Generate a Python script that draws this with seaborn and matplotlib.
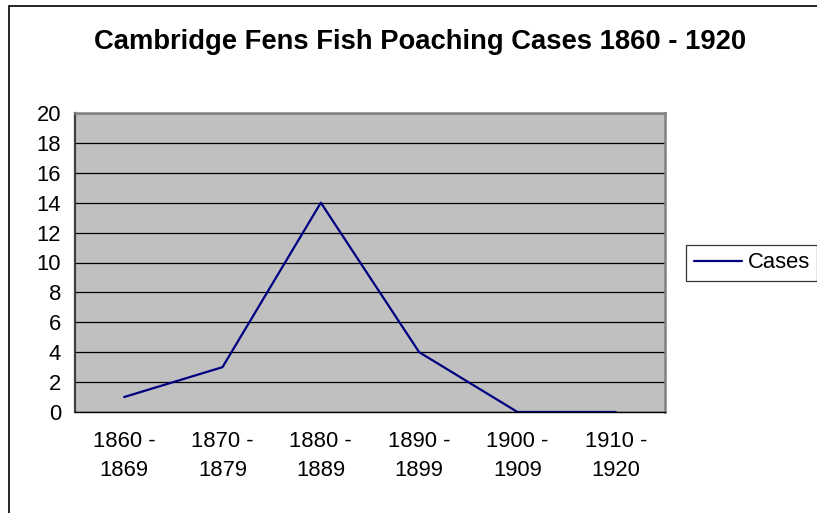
import matplotlib
matplotlib.use("Agg")
import matplotlib.pyplot as plt
import seaborn as sns
import pandas as pd
import numpy as np
from matplotlib.patches import Rectangle

periods = ["1860 -\n1869", "1870 -\n1879", "1880 -\n1889", "1890 -\n1899", "1900 -\n1909", "1910 -\n1920"]
cases = [1, 3, 14, 4, 0, 0]
series_name = "Cases"
title = "Cambridge Fens Fish Poaching Cases 1860 - 1920"
y_ticks = [0, 2, 4, 6, 8, 10, 12, 14, 16, 18, 20]

sns.set_style("white")
plt.rcParams['font.family'] = ['Liberation Sans', 'DejaVu Sans']
plt.rcParams['text.color'] = 'black'
plt.rcParams['xtick.color'] = 'black'
plt.rcParams['ytick.color'] = 'black'
plt.rcParams['axes.labelcolor'] = 'black'

W, H = 817, 513
fig = plt.figure(figsize=(W / 100, H / 100), dpi=100)
ax = fig.add_axes([75 / W, 1 - 412 / H, (665 - 75) / W, (412 - 113) / H])

df = pd.DataFrame({"period": periods, "cases": cases, "series": series_name})
df["pos"] = np.arange(len(periods))
sns.lineplot(data=df, x="pos", y="cases", hue="series", palette=["#000080"],
             linewidth=1.6, ax=ax, sort=False, legend=True)

ax.set_facecolor("#C0C0C0")
ax.set_xlim(-0.5, len(periods) - 0.5)
ax.set_ylim(0, 20)
ax.set_yticks(y_ticks)
ax.set_yticklabels([str(v) for v in y_ticks], fontsize=15.8)
ax.yaxis.grid(True, color="black", linewidth=0.9)
ax.set_axisbelow(True)

ax.set_xticks(np.arange(-0.5, len(periods), 1.0))
ax.set_xticklabels([])
ax.set_xticks(np.arange(len(periods)), minor=True)
ax.set_xticklabels(periods, minor=True, fontsize=15.8, linespacing=1.45)
ax.tick_params(axis="x", which="major", direction="out", length=6, width=1, color="black")
ax.tick_params(axis="x", which="minor", length=0, pad=14)
ax.tick_params(axis="y", direction="out", length=6, width=1, color="black", pad=4)
ax.set_xlabel("")
ax.set_ylabel("")

for s in ["top", "right"]:
    ax.spines[s].set_color("#808080")
    ax.spines[s].set_linewidth(1.8)
ax.spines["left"].set_color("#404040")
ax.spines["left"].set_linewidth(1.6)
ax.spines["bottom"].set_color("black")
ax.spines["bottom"].set_linewidth(1.0)

leg = ax.legend(loc="center left", bbox_to_anchor=(686 / W, 1 - 263 / H),
                bbox_transform=fig.transFigure, frameon=True, fancybox=False,
                fontsize=15.8, handlelength=2.2, handletextpad=0.25,
                borderpad=0.35, borderaxespad=0)
leg.get_frame().set_edgecolor("black")
leg.get_frame().set_linewidth(0.9)
for h in leg.get_lines():
    h.set_linewidth(1.6)

fig.text(420 / W, 1 - 42 / H, title, ha="center", va="center",
         fontsize=19.7, fontweight="bold", color="black")

fig.patches.append(Rectangle((8.5 / W, -0.1), 1.2, 1.1 - 6.5 / H,
                             transform=fig.transFigure, fill=False,
                             edgecolor="black", linewidth=1.2))

fig.savefig("out.png", dpi=100)
